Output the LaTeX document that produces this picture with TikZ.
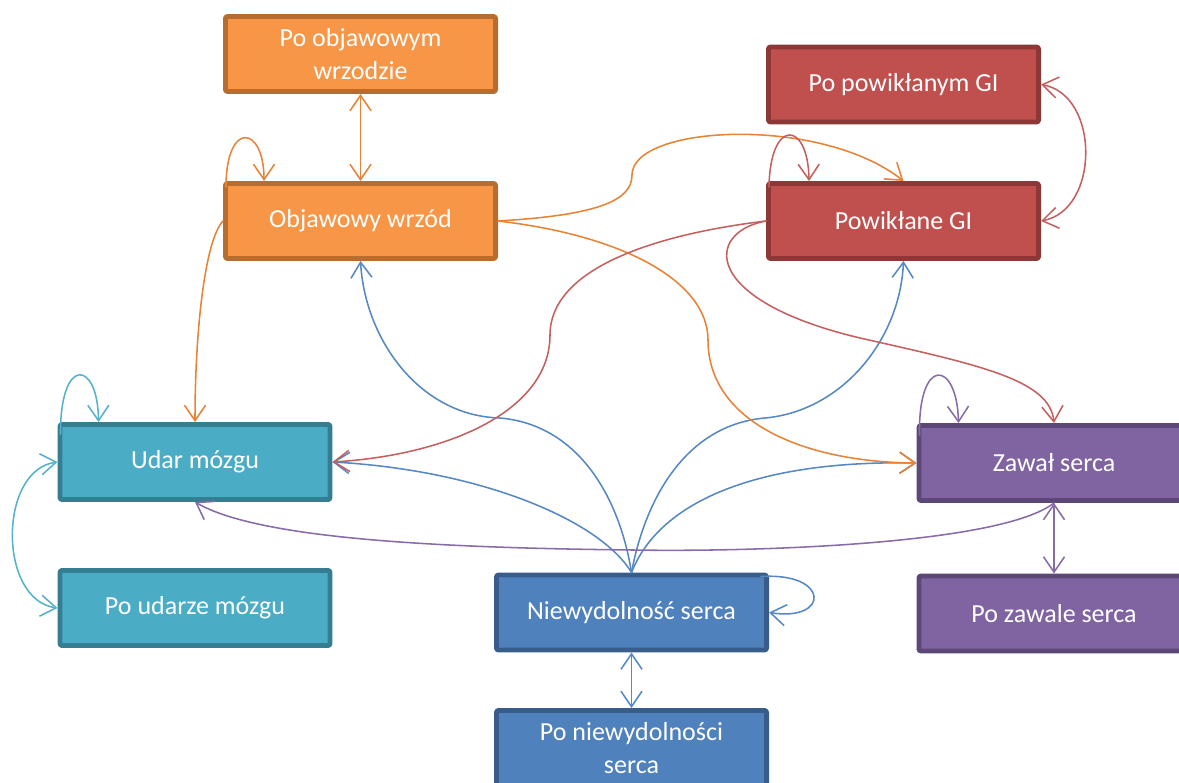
\documentclass[tikz,border=0pt]{standalone}
\usepackage{fontspec}
\setmainfont{Carlito}
\usetikzlibrary{arrows.meta,calc}
\definecolor{orfill}{RGB}{247,150,70}
\definecolor{ordraw}{RGB}{182,109,49}
\definecolor{orline}{RGB}{232,130,55}
\definecolor{rdfill}{RGB}{192,80,77}
\definecolor{rddraw}{RGB}{140,56,54}
\definecolor{rdline}{RGB}{196,96,94}
\definecolor{tlfill}{RGB}{75,172,198}
\definecolor{tldraw}{RGB}{53,125,145}
\definecolor{tlline}{RGB}{85,178,202}
\definecolor{plfill}{RGB}{128,100,162}
\definecolor{pldraw}{RGB}{92,71,118}
\definecolor{plline}{RGB}{135,108,170}
\definecolor{blfill}{RGB}{79,129,189}
\definecolor{bldraw}{RGB}{56,93,138}
\definecolor{blline}{RGB}{86,136,195}
\begin{document}
\begin{tikzpicture}[x=0.025cm,y=-0.025cm, line join=round, line cap=round,
    >={Straight Barb[length=11pt,width=15pt]},
    box/.style={draw, line width=3.5pt, rounded corners=1.5pt, minimum width=6.75cm,
        minimum height=1.875cm, text=white, align=center, font=\fontsize{18.5}{23}\selectfont},
    orbox/.style={box, fill=orfill, draw=ordraw},
    rdbox/.style={box, fill=rdfill, draw=rddraw},
    tlbox/.style={box, fill=tlfill, draw=tldraw},
    plbox/.style={box, fill=plfill, draw=pldraw},
    blbox/.style={box, fill=blfill, draw=bldraw},
    link/.style={->, line width=1.1pt},
    oline/.style={link, draw=orline},
    rline/.style={link, draw=rdline},
    tline/.style={link, draw=tlline},
    pline/.style={link, draw=plline},
    bline/.style={link, draw=blline}]
    \useasboundingbox (0,0) rectangle (1179,783);
    \node[orbox] (pow) at (360.5,54) {Po objawowym\\wrzodzie};
    \node[orbox] (ow) at (360.5,221) {Objawowy wrzód};
    \node[rdbox] (ppgi) at (903.5,84.5) {Po powikłanym GI};
    \node[rdbox] (pgi) at (903.5,221) {Powikłane GI};
    \node[tlbox] (um) at (195,462) {Udar mózgu};
    \node[tlbox] (pum) at (195,608) {Po udarze mózgu};
    \node[plbox] (zs) at (1054,463) {Zawał serca};
    \node[plbox] (pzs) at (1054,613.5) {Po zawale serca};
    \node[blbox] (ns) at (631.5,612.5) {Niewydolność serca};
    \node[blbox] (pns) at (631.5,748) {Po niewydolności\\serca};
    \draw[bline] (ns.north) .. controls (620,500) and (580,425) .. (500,418) .. controls (420,416) and (365,340) .. (ow.south);
    \draw[bline] (ns.north) .. controls (645,500) and (685,425) .. (765,418) .. controls (842,411) and (900,340) .. (pgi.south);
    \draw[bline] (ns.north) .. controls (600,520) and (480,470) .. (um.east);
    \draw[bline] (ns.north) .. controls (660,500) and (760,460) .. (zs.west);
    \draw[bline] ($(ns.north east)+(-8,4)$) .. controls (830,572) and (830,622) .. (ns.east);
    \draw[bline,<->] (ns.south) -- (pns.north);
    \draw[pline] ($(zs.north west)+(3,12)$) .. controls (918,355) and (957,360) .. ($(zs.north west)+(42,0)$);
    \draw[pline,<->] (zs.south) -- (pzs.north);
    \draw[pline] (zs.south) .. controls (1000,545) and (750,552) .. (633,550) .. controls (450,548) and (260,540) .. (um.south);
    \draw[oline,<->] (pow.south) -- (ow.north);
    \draw[oline] ($(ow.north west)+(3,6)$) .. controls (226,120) and (264,125) .. ($(ow.north west)+(41,0)$);
    \draw[oline] (ow.west) .. controls (205,240) and (195,330) .. (um.north);
    \draw[oline] (ow.east) .. controls (600,215) and (632,200) .. (632,175) .. controls (632,125) and (820,115) .. (pgi.north);
    \draw[oline] (ow.east) .. controls (620,235) and (708,280) .. (708,340) .. controls (708,420) and (800,462) .. (zs.west);
    \draw[rline] ($(pgi.north west)+(3,6)$) .. controls (770,118) and (808,120) .. ($(pgi.north west)+(43,0)$);
    \draw[rline,<->] (ppgi.east) .. controls (1100,95) and (1100,210) .. (pgi.east);
    \draw[rline] (pgi.west) .. controls (650,235) and (550,270) .. (550,335) .. controls (550,410) and (450,455) .. (um.east);
    \draw[rline] (pgi.west) .. controls (705,232) and (700,300) .. (860,338) .. controls (980,365) and (1050,380) .. (zs.north);
    \draw[tline] ($(um.north west)+(3,12)$) .. controls (60,355) and (98,360) .. ($(um.north west)+(41,0)$);
    \draw[tline,<->] (um.west) .. controls (-2,470) and (-2,600) .. (pum.west);
\end{tikzpicture}
\end{document}
